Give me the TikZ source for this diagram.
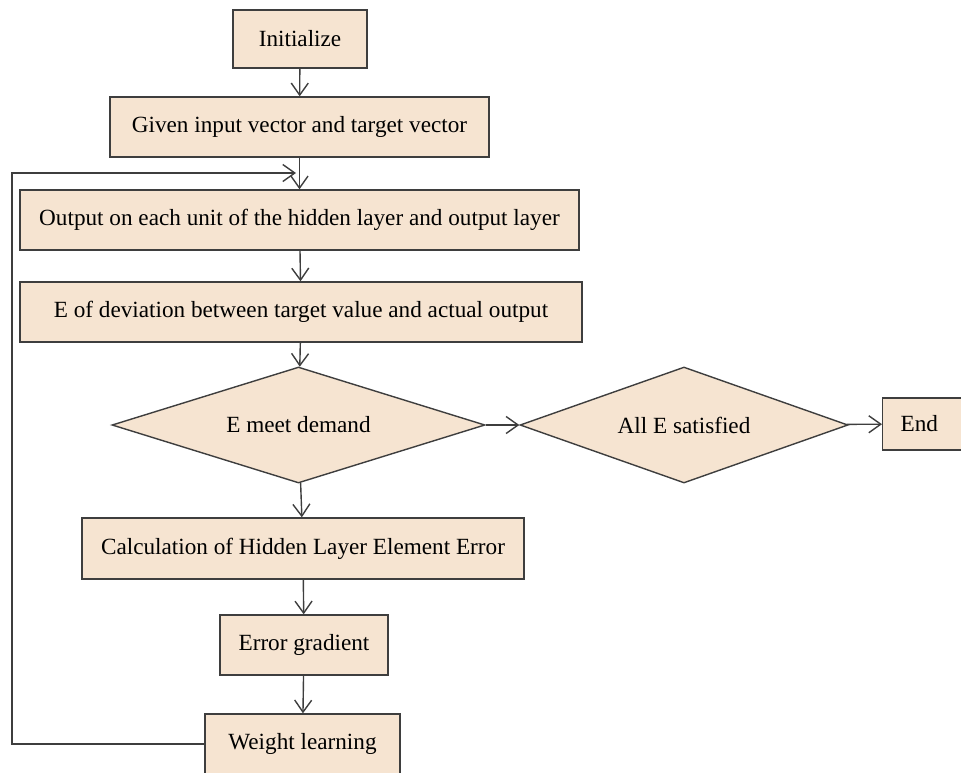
\documentclass[tikz,border=0pt]{standalone}
\usepackage{fontspec}
\setmainfont{Liberation Serif}
\usepackage{tikz}
\usetikzlibrary{shapes.geometric,arrows.meta}
\definecolor{boxfill}{RGB}{246,228,209}
\definecolor{linegray}{RGB}{62,62,62}

\begin{document}
\begin{tikzpicture}[x=1pt,y=-1pt]
\tikzstyle{every node}=[font=\fontsize{23.2}{26}\selectfont]
\tikzstyle{block}=[rectangle,draw=linegray,fill=boxfill,line width=1.4pt,inner sep=0pt]
\tikzstyle{decision}=[diamond,draw=linegray,fill=boxfill,line width=1.4pt,inner sep=0pt]
\tikzstyle{flow}=[draw=linegray,line width=1.4pt,-{Straight Barb[length=12pt,width=17pt,line width=1.4pt]}]
\useasboundingbox (0,0) rectangle (961,772);
\node[block,minimum width=134pt,minimum height=58pt] (init) at (300,39) {Initialize};
\node[block,minimum width=379pt,minimum height=60pt] (given) at (299.5,127) {Given input vector and target vector};
\node[block,minimum width=559pt,minimum height=60pt] (output) at (299.5,220) {Output on each unit of the hidden layer and output layer};
\node[block,minimum width=562pt,minimum height=60pt] (deviation) at (301,312) {E of deviation between target value and actual output};
\node[decision,aspect=3.2,minimum width=373pt,minimum height=116pt] (meet) at (298.5,425) {E meet demand};
\node[decision,aspect=2.8,minimum width=328pt,minimum height=116pt] (satisfied) at (684,425) {All E satisfied};
\node[block,anchor=west,text width=54pt,inner xsep=18pt,minimum height=52pt,align=left] (endbox) at (882,424) {End};
\node[block,minimum width=442pt,minimum height=61pt] (calc) at (303,548.5) {Calculation of Hidden Layer Element Error};
\node[block,minimum width=168pt,minimum height=60pt] (gradient) at (304,645) {Error gradient};
\node[block,minimum width=195pt,minimum height=60pt] (weight) at (302.5,744) {Weight learning};
\coordinate (loopcorner) at (12,173);
\coordinate (loopend) at (296,173);
% main flow
\draw[flow] (init) -- (given);
\draw[flow] (given) -- (output);
\draw[flow] (output) -- (deviation);
\draw[flow] (deviation) -- (meet);
\draw[flow] (meet) -- (satisfied);
\draw[flow] (satisfied) -- (endbox);
\draw[flow] (meet) -- (calc);
\draw[flow] (calc) -- (gradient);
\draw[flow] (gradient) -- (weight);
% feedback
\draw[flow] (weight.west) -| (loopcorner) -- (loopend);
\end{tikzpicture}
\end{document}
